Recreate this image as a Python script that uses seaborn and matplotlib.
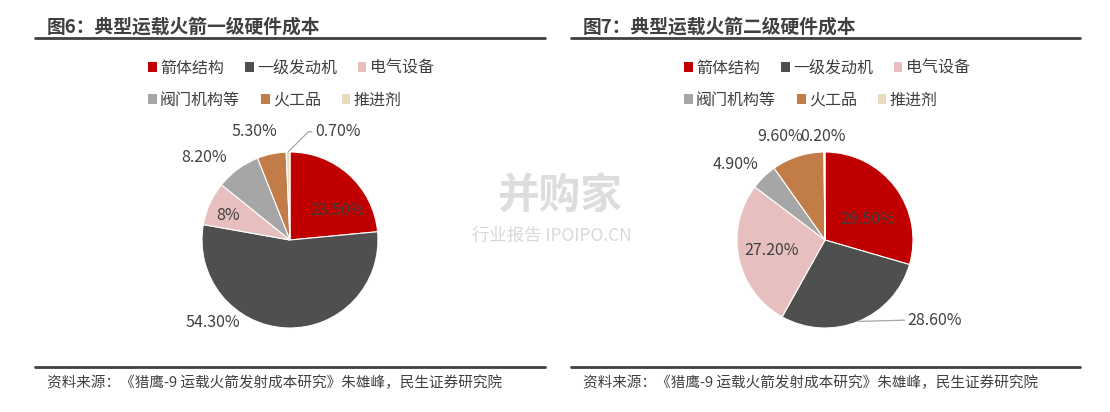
import matplotlib
matplotlib.use("Agg")
import matplotlib.pyplot as plt
import seaborn as sns
from matplotlib.patches import Patch
import numpy as np

# data
categories = ["箭体结构", "一级发动机", "电气设备", "阀门机构等", "火工品", "推进剂"]
stage1_values = [23.5, 54.3, 8.0, 8.2, 5.3, 0.7]
stage1_labels = ["23.50%", "54.30%", "8%", "8.20%", "5.30%", "0.70%"]
stage2_values = [29.5, 28.6, 27.2, 4.9, 9.6, 0.2]
stage2_labels = ["29.50%", "28.60%", "27.20%", "4.90%", "9.60%", "0.20%"]
titles = ["图6：典型运载火箭一级硬件成本", "图7：典型运载火箭二级硬件成本"]
source = "资料来源：《猎鹰-9 运载火箭发射成本研究》朱雄峰，民生证券研究院"

sns.set_theme(style="white")
plt.rcParams["font.family"] = ["Noto Sans CJK SC", "DejaVu Sans"]

colors = sns.color_palette(["#C00000", "#4F4F4F", "#E8BFBF", "#A6A6A6", "#C27C47", "#E8DCBC"])
text_c = "#404040"

W, H = 1110, 412
fig = plt.figure(figsize=(W / 100, H / 100), dpi=100)

# label placement (pie-radius units) and which label gets a leader line
label_pos = [
    [(0.545, 0.33), (-0.875, -0.94), (-0.70, 0.28), (-0.98, 0.94), (-0.40, 1.23), (0.545, 1.23)],
    [(0.48, 0.23), (1.25, -0.91), (-0.61, -0.115), (-1.02, 0.86), (-0.51, 1.18), (-0.02, 1.18)],
]
leaders = [{5: "angle,angleA=180,angleB=45,rad=0"}, {1: "arc3"}]

panels = [
    dict(x0=35, x1=545, tx=47, cx=290, values=stage1_values, labels=stage1_labels, lx=147),
    dict(x0=571, x1=1080, tx=583, cx=825, values=stage2_values, labels=stage2_labels, lx=683),
]

cy, r = 240, 88
for i, p in enumerate(panels):
    # title and rules
    fig.text(p["tx"] / W, 1 - 27 / H, titles[i], fontsize=13.5, fontweight="bold",
             color=text_c, va="center", ha="left")
    fig.add_artist(plt.Line2D([p["x0"] / W, p["x1"] / W], [1 - 38 / H] * 2, color=text_c, lw=2))
    fig.add_artist(plt.Line2D([p["x0"] / W, p["x1"] / W], [1 - 367 / H] * 2, color=text_c, lw=2))
    fig.text(p["tx"] / W, 1 - 383 / H, source, fontsize=10.5, color=text_c, va="center", ha="left")

    # legend, two rows of three
    handles = [Patch(facecolor=c, edgecolor="none") for c in colors]
    for row, yy in enumerate([68, 100]):
        sl = slice(row * 3, row * 3 + 3)
        fig.legend(handles[sl], categories[sl], ncol=3, frameon=False,
                   loc="center left", bbox_to_anchor=(p["lx"] / W - 0.012, 1 - yy / H),
                   fontsize=11.5, handlelength=0.55, handleheight=0.55, handletextpad=0.2,
                   columnspacing=1.3, labelcolor=text_c)

    # pie
    ax = fig.add_axes([(p["cx"] - r) / W, 1 - (cy + r) / H, 2 * r / W, 2 * r / H])
    wedges, _ = ax.pie(p["values"], colors=colors, startangle=90, counterclock=False,
                       radius=1, wedgeprops=dict(edgecolor="white", linewidth=0.8))
    ax.set_xlim(-1, 1)
    ax.set_ylim(-1, 1)
    ax.axis("off")
    for j, (w, lab) in enumerate(zip(wedges, p["labels"])):
        pos = label_pos[i][j]
        if j in leaders[i]:
            ang = np.deg2rad((w.theta1 + w.theta2) / 2)
            ax.annotate(lab, xy=(np.cos(ang), np.sin(ang)), xytext=pos, ha="center", va="center",
                        fontsize=11.5, color=text_c, annotation_clip=False,
                        arrowprops=dict(arrowstyle="-", color="#A6A6A6", lw=0.9, relpos=(0, 0.5),
                                        shrinkA=0, shrinkB=0, connectionstyle=leaders[i][j]))
        else:
            ax.text(pos[0], pos[1], lab, ha="center", va="center", fontsize=11.5,
                    color=text_c, clip_on=False)

# watermark
fig.text(560 / W, 1 - 197 / H, "并购家", fontsize=30, color="#CFCFCF", alpha=0.7,
         ha="center", va="center", fontweight="bold")
fig.text(552 / W, 1 - 236 / H, "行业报告 IPOIPO.CN", fontsize=12.5, color="#CFCFCF", alpha=0.8,
         ha="center", va="center")

fig.savefig("out.png", dpi=100, facecolor="white")
